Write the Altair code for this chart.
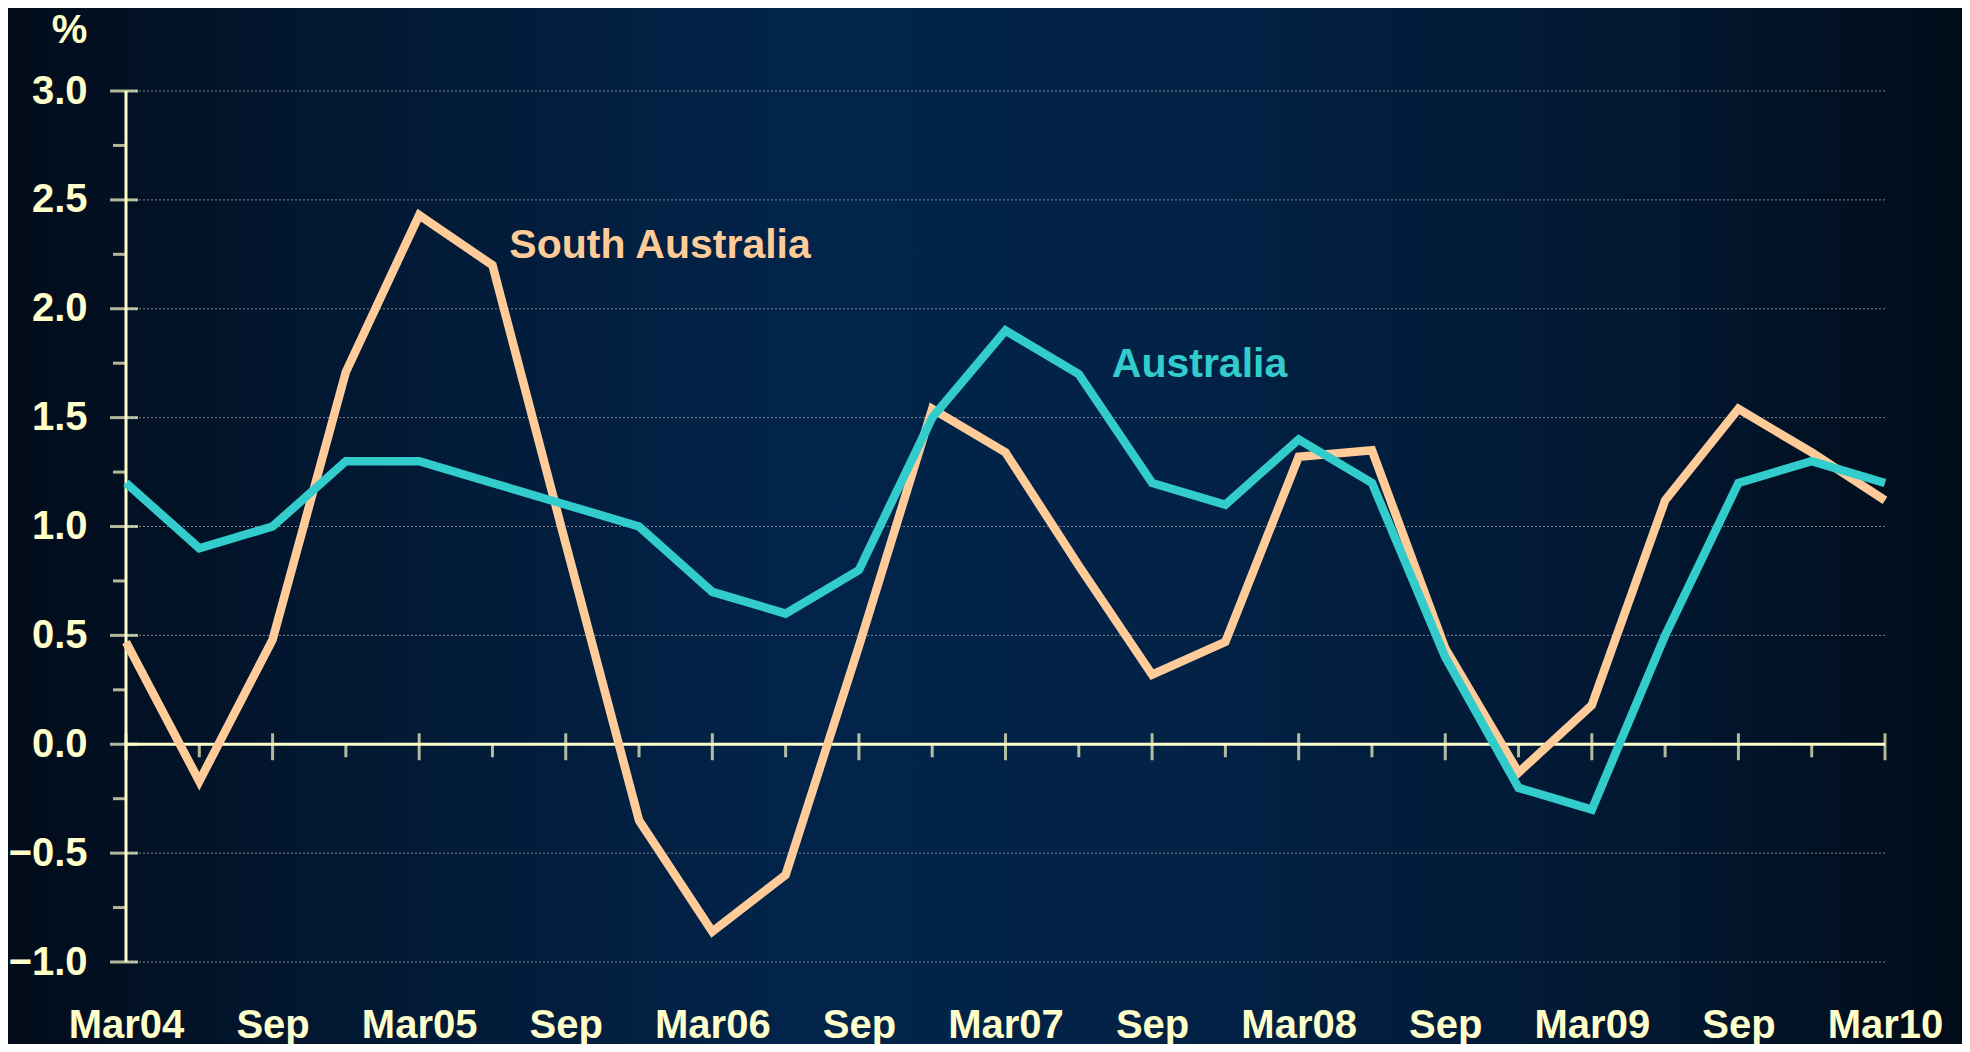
import json
import altair as alt
import pandas as pd

# ---------------- data ----------------
quarter_labels = ["Mar04", "Sep", "Mar05", "Sep", "Mar06", "Sep", "Mar07",
                  "Sep", "Mar08", "Sep", "Mar09", "Sep", "Mar10"]
quarter_index = list(range(25))  # Mar04 .. Mar10, quarterly

south_australia = [0.47, -0.17, 0.48, 1.71, 2.43, 2.20, 0.92, -0.35, -0.86, -0.60,
                   0.45, 1.54, 1.34, 0.82, 0.32, 0.47, 1.32, 1.35, 0.44, -0.13,
                   0.18, 1.12, 1.54, 1.34, 1.12]
australia = [1.2, 0.9, 1.0, 1.3, 1.3, 1.2, 1.1, 1.0, 0.7, 0.6,
             0.8, 1.5, 1.9, 1.7, 1.2, 1.1, 1.4, 1.2, 0.4, -0.2,
             -0.3, 0.5, 1.2, 1.3, 1.2]

series_names = ["South Australia", "Australia"]
label_q = [5.23, 13.45]
label_v = [2.29, 1.74]

y_major = [-1.0, -0.5, 0.0, 0.5, 1.0, 1.5, 2.0, 2.5, 3.0]
y_minor = [-0.75, -0.25, 0.25, 0.75, 1.25, 1.75, 2.25, 2.75]
x_major = quarter_index[0::2]
x_minor = quarter_index[1::2]

# ---------------- styling ----------------
CREAM = "#FFFFCC"
PEACH = "#FFCC99"
TEAL = "#33CCCC"
FONT = "Liberation Sans"
W, H = 1759, 871
PAD = {"left": 118, "top": 83, "right": 77, "bottom": 82}

lines_df = pd.DataFrame({
    "q": quarter_index * 2,
    "v": south_australia + australia,
    "series": [series_names[0]] * 25 + [series_names[1]] * 25,
})
labels_df = pd.DataFrame({"q": label_q, "v": label_v, "series": series_names})
ymaj_df = pd.DataFrame({"v": y_major})
ymin_df = pd.DataFrame({"v": y_minor})
xmaj_df = pd.DataFrame({"q": x_major})
xmin_df = pd.DataFrame({"q": x_minor})

xscale = alt.Scale(domain=[0, 24], nice=False, zero=False)
yscale = alt.Scale(domain=[-1, 3], nice=False, zero=False)
cscale = alt.Scale(domain=series_names, range=[PEACH, TEAL])

label_expr = json.dumps(quarter_labels) + "[round(datum.value / 2)]"

x_axis = alt.Axis(values=x_major, labelExpr=label_expr, domain=False, ticks=False,
                  grid=False, labelFont=FONT, labelFontSize=40, labelFontWeight="bold",
                  labelColor=CREAM, labelPadding=43, labelBaseline="top", title=None,
                  zindex=1, labelFlush=False)
y_axis = alt.Axis(values=y_major, format=".1f", domain=False, ticks=False, grid=False,
                  labelFont=FONT, labelFontSize=40, labelFontWeight="bold",
                  labelColor=CREAM, labelPadding=39, title="%", titleAngle=0,
                  titleAlign="center", titleBaseline="top", titleX=-57, titleY=-81,
                  titleFont=FONT, titleFontSize=40, titleFontWeight="bold",
                  titleColor=CREAM, zindex=1)

bg = alt.Chart(pd.DataFrame({"a": [0]})).mark_rect(
    color=alt.LinearGradient(
        gradient="linear", x1=0, x2=1, y1=0, y2=0,
        stops=[
            alt.GradientStop(offset=0.0, color="#020c1a"),
            alt.GradientStop(offset=0.15, color="#021730"),
            alt.GradientStop(offset=0.4, color="#02244a"),
            alt.GradientStop(offset=0.6, color="#022246"),
            alt.GradientStop(offset=0.85, color="#021730"),
            alt.GradientStop(offset=1.0, color="#010c19"),
        ],
    )
).encode(
    x=alt.value(-PAD["left"]), x2=alt.value(W + PAD["right"]),
    y=alt.value(-PAD["top"]), y2=alt.value(H + PAD["bottom"]),
)

grid = alt.Chart(ymaj_df).mark_rule(
    color="#9aa0a8", strokeWidth=1, strokeDash=[2, 2], opacity=0.8
).encode(y=alt.Y("v:Q", scale=yscale, axis=y_axis))

zero_line = alt.Chart(pd.DataFrame({"v": [0.0]})).mark_rule(
    color=CREAM, strokeWidth=3
).encode(y=alt.Y("v:Q", scale=yscale))

y_line = alt.Chart(pd.DataFrame({"q": [0]})).mark_rule(
    color=CREAM, strokeWidth=3
).encode(x=alt.X("q:Q", scale=xscale, axis=x_axis))

y_major_ticks = alt.Chart(ymaj_df).mark_tick(
    orient="horizontal", color=CREAM, size=28, thickness=3, xOffset=-2
).encode(x=alt.datum(0, scale=xscale), y=alt.Y("v:Q", scale=yscale))

y_minor_ticks = alt.Chart(ymin_df).mark_tick(
    orient="horizontal", color=CREAM, size=13, thickness=3, xOffset=-6.5
).encode(x=alt.datum(0, scale=xscale), y=alt.Y("v:Q", scale=yscale))

x_major_ticks = alt.Chart(xmaj_df).mark_tick(
    orient="vertical", color=CREAM, size=27, thickness=3, yOffset=2.5
).encode(x=alt.X("q:Q", scale=xscale), y=alt.datum(0, scale=yscale))

x_minor_ticks = alt.Chart(xmin_df).mark_tick(
    orient="vertical", color=CREAM, size=13, thickness=3, yOffset=6.5
).encode(x=alt.X("q:Q", scale=xscale), y=alt.datum(0, scale=yscale))

def series_line(name):
    return alt.Chart(lines_df).transform_filter(
        alt.datum.series == name
    ).mark_line(strokeWidth=8.5, strokeJoin="miter", strokeCap="butt").encode(
        x=alt.X("q:Q", scale=xscale),
        y=alt.Y("v:Q", scale=yscale),
        color=alt.Color("series:N", scale=cscale, legend=None),
    )

texts = alt.Chart(labels_df).mark_text(
    align="left", baseline="middle", font=FONT, fontSize=41, fontWeight="bold"
).encode(
    x=alt.X("q:Q", scale=xscale),
    y=alt.Y("v:Q", scale=yscale),
    text="series:N",
    color=alt.Color("series:N", scale=cscale, legend=None),
)

chart = alt.layer(
    bg, grid, zero_line, y_line, y_major_ticks, y_minor_ticks,
    x_major_ticks, x_minor_ticks,
    series_line(series_names[0]), series_line(series_names[1]), texts,
).properties(
    width=W, height=H,
    autosize=alt.AutoSizeParams(type="none"),
    padding=PAD,
    background="#021a36",
).configure_view(stroke=None)

chart.save("out.html", embed_options={"renderer": "svg", "actions": False})
